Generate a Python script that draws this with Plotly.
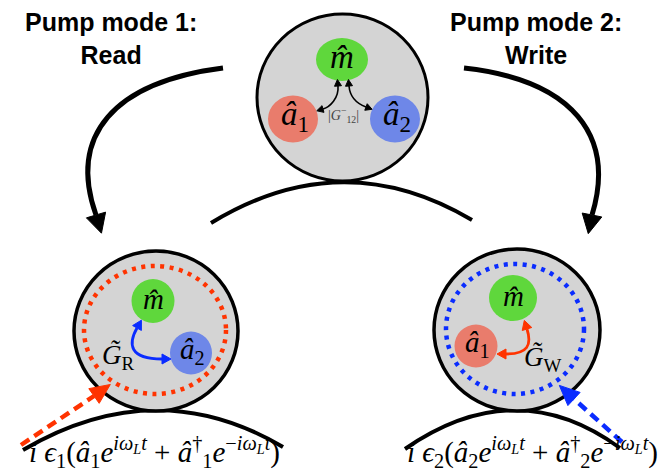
import math
import plotly.graph_objects as go

# ---------------- content (text / labels) ----------------
TITLES = ["<b>Pump mode 1:</b><br><b>Read</b>", "<b>Pump mode 2:</b><br><b>Write</b>"]
TOP_NODE_LABELS = ["<i>m̂</i>", "<i>â</i><sub>1</sub>", "<i>â</i><sub>2</sub>"]
COUPLING_LABEL = "|<i>G</i><sup>−</sup><sub>12</sub>|"
READ_NODE_LABELS = ["<i>m̂</i>", "<i>â</i><sub>2</sub>"]
WRITE_NODE_LABELS = ["<i>m̂</i>", "<i>â</i><sub>1</sub>"]
GAIN_LABELS = ["<i>G̃</i><sub>R</sub>", "<i>G̃</i><sub>W</sub>"]
DRIVE_LABELS = [
    "<i>i ϵ</i><sub>1</sub>(<i>â</i><sub>1</sub><i>e</i><sup><i>iω</i><sub><i>L</i></sub><i>t</i></sup>"
    " + <i>â</i><sup>†</sup><sub>1</sub><i>e</i><sup>−<i>iω</i><sub><i>L</i></sub><i>t</i></sup>)",
    "<i>i ϵ</i><sub>2</sub>(<i>â</i><sub>2</sub><i>e</i><sup><i>iω</i><sub><i>L</i></sub><i>t</i></sup>"
    " + <i>â</i><sup>†</sup><sub>2</sub><i>e</i><sup>−<i>iω</i><sub><i>L</i></sub><i>t</i></sup>)",
]

# colours
GREEN = "#5fd73c"
RED_NODE = "#e97c6c"
BLUE_NODE = "#6e87e8"
GRAY = "#d4d4d4"
RED = "#ff3300"
BLUE = "#0a2cff"
SERIF = "Liberation Serif, DejaVu Serif, serif"
SANS = "Liberation Sans, Arial, sans-serif"

W, H = 668, 472
shapes = []
annotations = []


def ellipse(cx, cy, rx, ry, fill="rgba(0,0,0,0)", lc="rgba(0,0,0,0)", lw=0, dash="solid"):
    shapes.append(dict(type="circle", xref="x", yref="y", x0=cx - rx, x1=cx + rx,
                       y0=cy - ry, y1=cy + ry, fillcolor=fill,
                       line=dict(color=lc, width=lw, dash=dash), layer="above"))


def cubic(p0, p1, p2, p3, color, width, dash="solid"):
    path = "M %g %g C %g %g, %g %g, %g %g" % (*p0, *p1, *p2, *p3)
    shapes.append(dict(type="path", xref="x", yref="y", path=path,
                       line=dict(color=color, width=width, dash=dash), layer="above"))


def quad(p0, p1, p2, color, width):
    path = "M %g %g Q %g %g, %g %g" % (*p0, *p1, *p2)
    shapes.append(dict(type="path", xref="x", yref="y", path=path,
                       line=dict(color=color, width=width), layer="above"))


def line(p0, p1, color, width, dash="solid"):
    shapes.append(dict(type="line", xref="x", yref="y", x0=p0[0], y0=p0[1], x1=p1[0], y1=p1[1],
                       line=dict(color=color, width=width, dash=dash), layer="above"))


def head(base, toward, length, hw, color):
    dx, dy = toward[0] - base[0], toward[1] - base[1]
    n = math.hypot(dx, dy)
    ux, uy = dx / n, dy / n
    tip = (base[0] + ux * length, base[1] + uy * length)
    px, py = -uy, ux
    c1 = (base[0] + px * hw, base[1] + py * hw)
    c2 = (base[0] - px * hw, base[1] - py * hw)
    path = "M %g %g L %g %g L %g %g Z" % (*tip, *c1, *c2)
    shapes.append(dict(type="path", xref="x", yref="y", path=path, fillcolor=color,
                       line=dict(color=color, width=1), layer="above"))


def curved_arrow(p0, p1, p2, p3, color, width, hl, hw, start=True, end=True):
    cubic(p0, p1, p2, p3, color, width)
    if start:
        head(p0, (2 * p0[0] - p1[0], 2 * p0[1] - p1[1]), hl, hw, color)
    if end:
        head(p3, (2 * p3[0] - p2[0], 2 * p3[1] - p2[1]), hl, hw, color)


def text(x, y, s, size, color="black", family=SERIF):
    annotations.append(dict(x=x, y=y, xref="x", yref="y", text=s, showarrow=False,
                            xanchor="center", yanchor="middle",
                            font=dict(size=size, color=color, family=family)))


# ---------------- big pump arrows and arcs ----------------
cubic((215, 60), (105, 74), (60, 128), (88, 207), "black", 5)
head((88, 207), (89.5, 212), 19, 10, "black")
cubic((456, 60), (565, 72), (608, 128), (584, 207), "black", 5)
head((584, 207), (583, 212), 19, 10, "black")
quad((203, 215), (334, 135), (464, 212), "black", 4)
quad((15, 442), (148, 364), (275, 439), "black", 4)
quad((397, 441), (508, 364), (612, 440), "black", 4)

# ---------------- top cavity ----------------
ellipse(334.5, 89.5, 85.5, 83.5, fill=GRAY, lc="black", lw=3)
ellipse(334, 51.5, 26, 21.5, fill=GREEN)
ellipse(285, 111, 25, 23.5, fill=RED_NODE)
ellipse(387, 111, 25, 23.5, fill=BLUE_NODE)
curved_arrow((330, 78), (331, 90), (322, 99), (315, 101), "black", 1.6, 6.5, 3.5)
curved_arrow((341, 78), (342, 90), (350, 96), (358, 99), "black", 1.6, 6.5, 3.5)
text(334, 49, TOP_NODE_LABELS[0], 33)
text(287, 108, TOP_NODE_LABELS[1], 33)
text(389, 108, TOP_NODE_LABELS[2], 33)
text(335, 107, COUPLING_LABEL, 14, color="#444444")

# ---------------- read cavity (left) ----------------
ellipse(148, 323, 82, 80, fill=GRAY, lc="black", lw=3.5)
ellipse(147, 322, 71, 64, lc=RED, lw=4.5, dash="4px,5.5px")
ellipse(145, 293, 21.5, 22, fill=GREEN)
ellipse(183, 345, 21, 21.5, fill=BLUE_NODE)
curved_arrow((129, 320), (120, 336), (121, 351), (154, 351), BLUE, 2.8, 9, 5)
text(145, 291, READ_NODE_LABELS[0], 29)
text(184, 343, READ_NODE_LABELS[1], 29)
text(110, 349, GAIN_LABELS[0], 27)
line((13, 437), (86, 388), RED, 4.5, dash="10px,6px")
head((86, 388), (103, 376), 20, 9, RED)
text(146, 444, DRIVE_LABELS[0], 29)

# ---------------- write cavity (right) ----------------
ellipse(509, 322, 83, 81, fill=GRAY, lc="black", lw=3.5)
ellipse(507, 321, 69, 65, lc=BLUE, lw=4.5, dash="4px,5.5px")
ellipse(505, 290, 24, 23, fill=GREEN)
ellipse(468, 338, 21.5, 21.5, fill=RED_NODE)
curved_arrow((519, 321), (524, 337), (520, 346), (498, 346), RED, 2.8, 9, 5)
text(505, 288, WRITE_NODE_LABELS[0], 29)
text(469, 336, WRITE_NODE_LABELS[1], 29)
text(535, 351, GAIN_LABELS[1], 27)
line((614, 434), (566, 391), BLUE, 4.5, dash="10px,6px")
head((566, 391), (552, 378), 20, 9, BLUE)
text(524, 444, DRIVE_LABELS[1], 29)

# ---------------- titles ----------------
text(103, 30, TITLES[0], 25, family=SANS)
text(528, 30, TITLES[1], 25, family=SANS)

fig = go.Figure()
fig.update_layout(
    width=W, height=H, margin=dict(l=0, r=0, t=0, b=0),
    paper_bgcolor="white", plot_bgcolor="white",
    xaxis=dict(range=[0, W], visible=False, fixedrange=True),
    yaxis=dict(range=[H, 0], visible=False, fixedrange=True),
    shapes=shapes, annotations=annotations, showlegend=False,
)
fig.write_html("out.html")
